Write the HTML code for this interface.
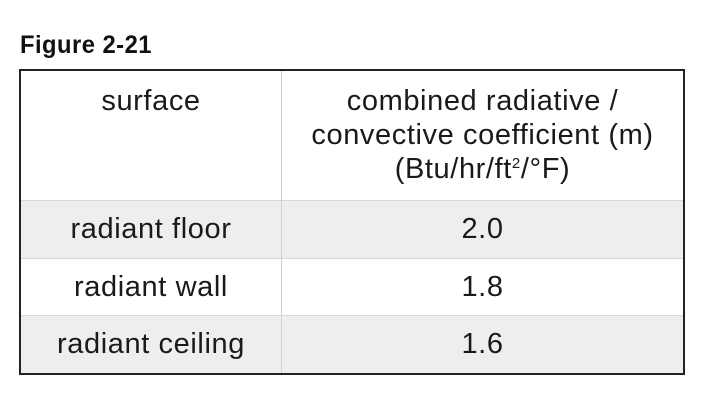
<!DOCTYPE html>
<html><head><meta charset="utf-8"><style>
body{margin:0;width:718px;height:402px;background:#fff;position:relative;overflow:hidden;font-family:"Liberation Sans",Arial,sans-serif;color:#1a1a1a}
.t{position:absolute;text-align:center;font-size:29px;letter-spacing:0.6px}
</style></head><body>
<div style="position:absolute;left:20px;top:31px;font-size:25px;font-weight:bold;letter-spacing:0.5px;transform:scaleX(0.95);transform-origin:left;color:#111">Figure 2-21</div>
<div style="position:absolute;left:19px;top:69px;width:662px;height:302px;border:2px solid #222;background:#fff">
  <div style="position:absolute;left:0;top:130px;width:662px;height:57px;background:#eeeeee"></div>
  <div style="position:absolute;left:0;top:245px;width:662px;height:57px;background:#eeeeee"></div>
  <div style="position:absolute;left:0;top:129px;width:662px;height:1px;background:#d8d8d8"></div>
  <div style="position:absolute;left:0;top:187px;width:662px;height:1px;background:#d8d8d8"></div>
  <div style="position:absolute;left:0;top:244px;width:662px;height:1px;background:#d8d8d8"></div>
  <div style="position:absolute;left:260px;top:0;width:1px;height:302px;background:#d0d0d0"></div>
  <div class="t" style="left:0;width:260px;top:13px;line-height:34px">surface</div>
  <div class="t" style="left:261px;width:401px;top:13px;line-height:34px">combined radiative /<br>convective coefficient (m)<br>(Btu/hr/ft<sup style="font-size:15px;vertical-align:10px;line-height:0">2</sup>/°F)</div>
  <div class="t" style="left:0;width:260px;top:130px;line-height:57px">radiant floor</div>
  <div class="t" style="left:261px;width:401px;top:130px;line-height:57px">2.0</div>
  <div class="t" style="left:0;width:260px;top:188px;line-height:57px">radiant wall</div>
  <div class="t" style="left:261px;width:401px;top:188px;line-height:57px">1.8</div>
  <div class="t" style="left:0;width:260px;top:245px;line-height:57px">radiant ceiling</div>
  <div class="t" style="left:261px;width:401px;top:245px;line-height:57px">1.6</div>
</div>
</body></html>
